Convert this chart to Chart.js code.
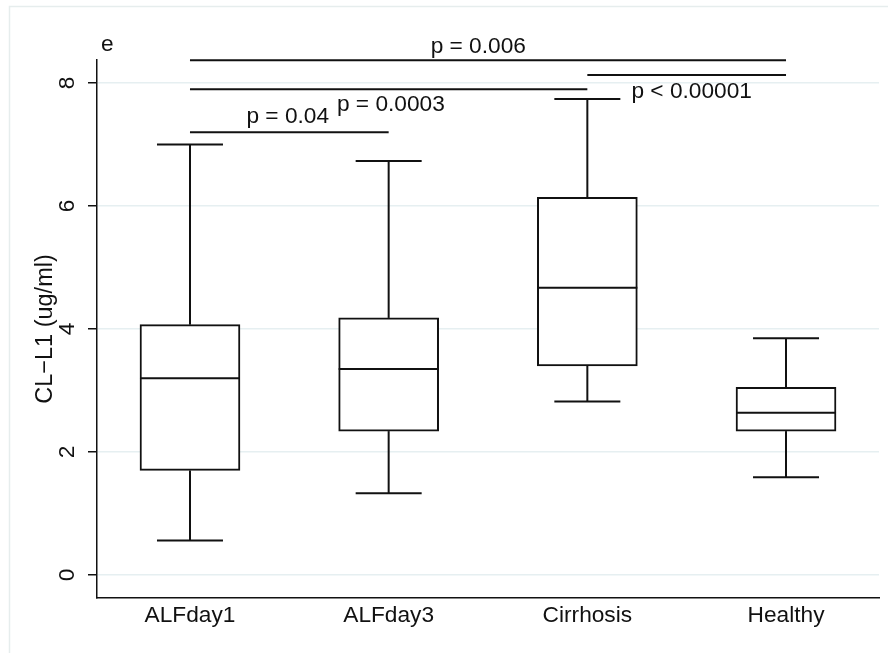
<!DOCTYPE html>
<html>
<head>
<meta charset="utf-8">
<script src="https://cdn.jsdelivr.net/npm/chart.js@4/dist/chart.umd.min.js"></script>
<style>
  html, body { margin: 0; padding: 0; background: #ffffff; }
  canvas { display: block; }
</style>
</head>
<body>
<canvas id="c" width="888" height="653" style="width:888px;height:653px"></canvas>
<script>
// ---- data ----
const categories = ['ALFday1', 'ALFday3', 'Cirrhosis', 'Healthy'];
const catPos = [1, 2, 3, 4];
const whiskerLow = [0.56, 1.33, 2.82, 1.59];
const q1 = [1.70, 2.34, 3.40, 2.34];
const median = [3.20, 3.35, 4.67, 2.64];
const q3 = [4.07, 4.18, 6.14, 3.05];
const whiskerHigh = [7.00, 6.73, 7.74, 3.85];
const yTicks = [0, 2, 4, 6, 8];

// significance brackets
const sigFrom = [1, 1, 3, 1];
const sigTo = [2, 3, 4, 4];
const sigLevel = [7.20, 7.90, 8.13, 8.37];
const sigLabels = ['p = 0.04', 'p = 0.0003', 'p < 0.00001', 'p = 0.006'];
const sigLabelX = [1.492, 2.011, 3.525, 2.451];
const sigLabelY = [7.345, 7.537, 7.751, 8.493];

const yTitle = 'CL\u2212L1 (ug/ml)';
const panelLabel = 'e';

const FONT = '"Liberation Sans", Arial, Helvetica, sans-serif';
const FS = 22.7;
const INK = '#111111';

const boxPlugin = {
  id: 'boxExtras',
  beforeDraw(chart) {
    const ctx = chart.ctx;
    ctx.save();
    ctx.fillStyle = '#ffffff';
    ctx.fillRect(0, 0, chart.width, chart.height);
    ctx.strokeStyle = '#e6eded';
    ctx.lineWidth = 1.5;
    ctx.beginPath();
    ctx.moveTo(9.5, chart.height + 5);
    ctx.lineTo(9.5, 6.5);
    ctx.lineTo(chart.width + 5, 6.5);
    ctx.stroke();
    ctx.restore();
  },
  afterDatasetsDraw(chart) {
    const ctx = chart.ctx;
    const xs = chart.scales.x, ys = chart.scales.y;
    const meta = chart.getDatasetMeta(0);
    ctx.save();
    ctx.strokeStyle = INK;
    ctx.lineWidth = 2;
    ctx.lineCap = 'butt';
    const line = (x1, y1, x2, y2) => { ctx.beginPath(); ctx.moveTo(x1, y1); ctx.lineTo(x2, y2); ctx.stroke(); };
    meta.data.forEach((bar, i) => {
      const cx = xs.getPixelForValue(catPos[i]);
      const half = bar.width / 2;
      const capHalf = bar.width * 0.33;
      const yMed = ys.getPixelForValue(median[i]);
      line(cx - half, yMed, cx + half, yMed);
      const yQ3 = ys.getPixelForValue(q3[i]), yHi = ys.getPixelForValue(whiskerHigh[i]);
      const yQ1 = ys.getPixelForValue(q1[i]), yLo = ys.getPixelForValue(whiskerLow[i]);
      line(cx, yQ3, cx, yHi);
      line(cx - capHalf, yHi, cx + capHalf, yHi);
      line(cx, yQ1, cx, yLo);
      line(cx - capHalf, yLo, cx + capHalf, yLo);
    });
    // significance lines
    sigFrom.forEach((f, i) => {
      const yy = ys.getPixelForValue(sigLevel[i]);
      line(xs.getPixelForValue(f), yy, xs.getPixelForValue(sigTo[i]), yy);
    });
    ctx.fillStyle = INK;
    ctx.font = FS + 'px ' + FONT;
    ctx.textAlign = 'center';
    ctx.textBaseline = 'alphabetic';
    sigLabels.forEach((t, i) => {
      ctx.fillText(t, xs.getPixelForValue(sigLabelX[i]), ys.getPixelForValue(sigLabelY[i]));
    });
    // rotated y tick labels
    ys.ticks.forEach(tk => {
      const py = ys.getPixelForValue(tk.value);
      ctx.save();
      ctx.translate(67.5, py);
      ctx.rotate(-Math.PI / 2);
      ctx.textAlign = 'center';
      ctx.textBaseline = 'middle';
      ctx.fillText(String(tk.value), 0, 0);
      ctx.restore();
    });
    // panel label
    ctx.textAlign = 'left';
    ctx.fillText(panelLabel, 101, 51);
    ctx.restore();
  }
};

new Chart(document.getElementById('c'), {
  type: 'bar',
  data: {
    datasets: [{
      data: catPos.map((p, i) => ({ x: p, y: [q1[i], q3[i]] })),
      backgroundColor: '#ffffff',
      borderColor: INK,
      borderWidth: 2,
      borderSkipped: false,
      barThickness: 100
    }]
  },
  options: {
    responsive: false,
    devicePixelRatio: 1,
    animation: false,
    layout: { padding: { left: 0, top: 60, right: 9, bottom: 0 } },
    plugins: { legend: { display: false }, tooltip: { enabled: false } },
    scales: {
      x: {
        type: 'linear',
        offset: false,
        min: 0.532,
        max: 4.468,
        afterBuildTicks(scale) { scale.ticks = catPos.map(v => ({ value: v })); },
        afterFit(scale) { scale.height = 55; },
        grid: { display: false, drawTicks: false, offset: false },
        border: { display: true, color: INK, width: 1.5 },
        ticks: {
          padding: 4,
          color: INK,
          font: { family: FONT, size: FS },
          maxRotation: 0,
          autoSkip: false,
          callback: (v, idx) => categories[idx]
        }
      },
      y: {
        type: 'linear',
        min: -0.374,
        max: 8.374,
        afterBuildTicks(scale) { scale.ticks = yTicks.map(v => ({ value: v })); },
        afterFit(scale) { scale.width = 97; },
        grid: { color: '#e6eff1', lineWidth: 1.5, tickColor: INK, tickLength: 9, tickWidth: 1.5, drawTicks: true },
        border: { display: true, color: INK, width: 1.5 },
        ticks: { display: false },
        title: {
          display: true,
          text: yTitle,
          color: INK,
          font: { family: FONT, size: 23.5 },
          padding: { top: 31, bottom: 0 }
        }
      }
    }
  },
  plugins: [boxPlugin]
});
</script>
</body>
</html>
